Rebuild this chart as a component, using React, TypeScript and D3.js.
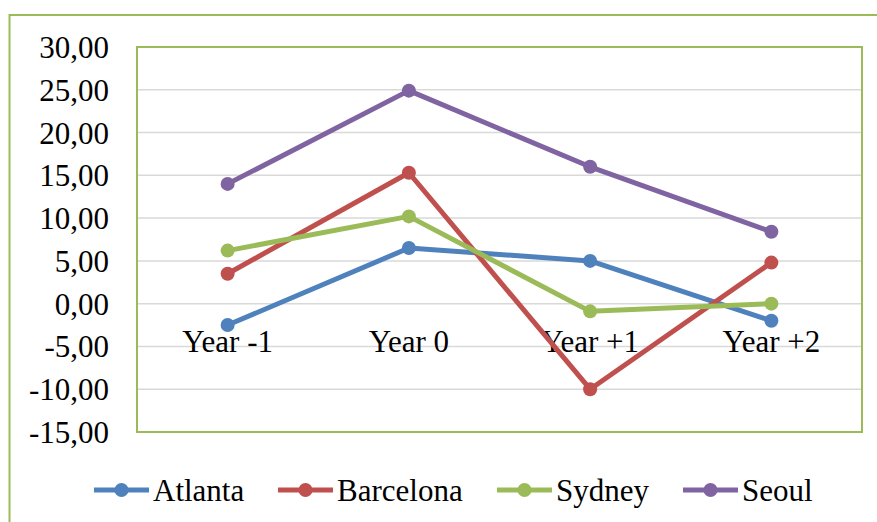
import React from "react";
import * as d3 from "d3";

const categories = ["Year -1", "Year 0", "Year +1", "Year +2"];
const seriesNames = ["Atlanta", "Barcelona", "Sydney", "Seoul"];
const atlanta = [-2.5, 6.5, 5.0, -2.0];
const barcelona = [3.5, 15.3, -10.0, 4.8];
const sydney = [6.2, 10.2, -0.9, 0.0];
const seoul = [14.0, 24.9, 16.0, 8.4];
const colors = ["#4F81BD", "#C0504D", "#9BBB59", "#8064A2"];
const yTicks = [30, 25, 20, 15, 10, 5, 0, -5, -10, -15];

const W = 877, H = 522;
const plot = { left: 137, top: 47, right: 862, bottom: 432 };
const FONT = "Liberation Serif";
const FS = 31;

export default function App() {
  const series = [atlanta, barcelona, sydney, seoul];
  const x = d3.scaleBand<string>().domain(categories).range([plot.left, plot.right]);
  const y = d3.scaleLinear().domain([-15, 30]).range([plot.bottom, plot.top]);
  const cx = (c: string) => (x(c) as number) + x.bandwidth() / 2;
  const line = d3.line<number>().x((_, i) => cx(categories[i])).y((d) => y(d));
  const fmt = (v: number) => v.toFixed(2).replace(".", ",");
  const legendX = [94, 278, 497, 683];
  const legendY = 490;
  const ts = { fontFamily: FONT, fontSize: FS } as React.CSSProperties;

  return (
    <svg width={W} height={H} style={{ position: "absolute", left: 0, top: 0, fontFamily: FONT }} fontFamily={FONT}>
      <rect x={0} y={0} width={W} height={H} fill="#fff" />
      <rect x={9.5} y={15} width={W + 10} height={H + 10} fill="none" stroke="#9BBB59" strokeWidth={2} />
      {yTicks.filter((t) => t !== 30 && t !== -15).map((t) => (
        <line key={"g" + t} x1={plot.left} x2={plot.right} y1={y(t)} y2={y(t)} stroke="#D9D9D9" strokeWidth={1.5} />
      ))}
      <rect x={plot.left} y={plot.top} width={plot.right - plot.left} height={plot.bottom - plot.top} fill="none" stroke="#9BBB59" strokeWidth={2} />
      {yTicks.map((t) => (
        <text key={"t" + t} x={109} y={y(t) + 11} textAnchor="end" fontFamily={FONT} fontSize={FS} style={ts} fill="#000">
          {fmt(t)}
        </text>
      ))}
      {categories.map((c) => (
        <text key={c} x={cx(c)} y={352} textAnchor="middle" fontFamily={FONT} fontSize={FS} style={ts} fill="#000">
          {c}
        </text>
      ))}
      {series.map((s, i) => (
        <path key={"p" + i} d={line(s) as string} fill="none" stroke={colors[i]} strokeWidth={5} strokeLinejoin="round" />
      ))}
      {series.map((s, i) =>
        s.map((v, j) => <circle key={"c" + i + "-" + j} cx={cx(categories[j])} cy={y(v)} r={7} fill={colors[i]} />)
      )}
      {seriesNames.map((n, i) => (
        <line key={"ll" + n} x1={legendX[i]} x2={legendX[i] + 55} y1={legendY} y2={legendY} stroke={colors[i]} strokeWidth={5} />
      ))}
      {seriesNames.map((n, i) => (
        <circle key={"lc" + n} cx={legendX[i] + 27.5} cy={legendY} r={7} fill={colors[i]} />
      ))}
      {seriesNames.map((n, i) => (
        <text key={"lt" + n} x={legendX[i] + 59} y={501} fontFamily={FONT} fontSize={FS} style={ts} fill="#000">
          {n}
        </text>
      ))}
    </svg>
  );
}
